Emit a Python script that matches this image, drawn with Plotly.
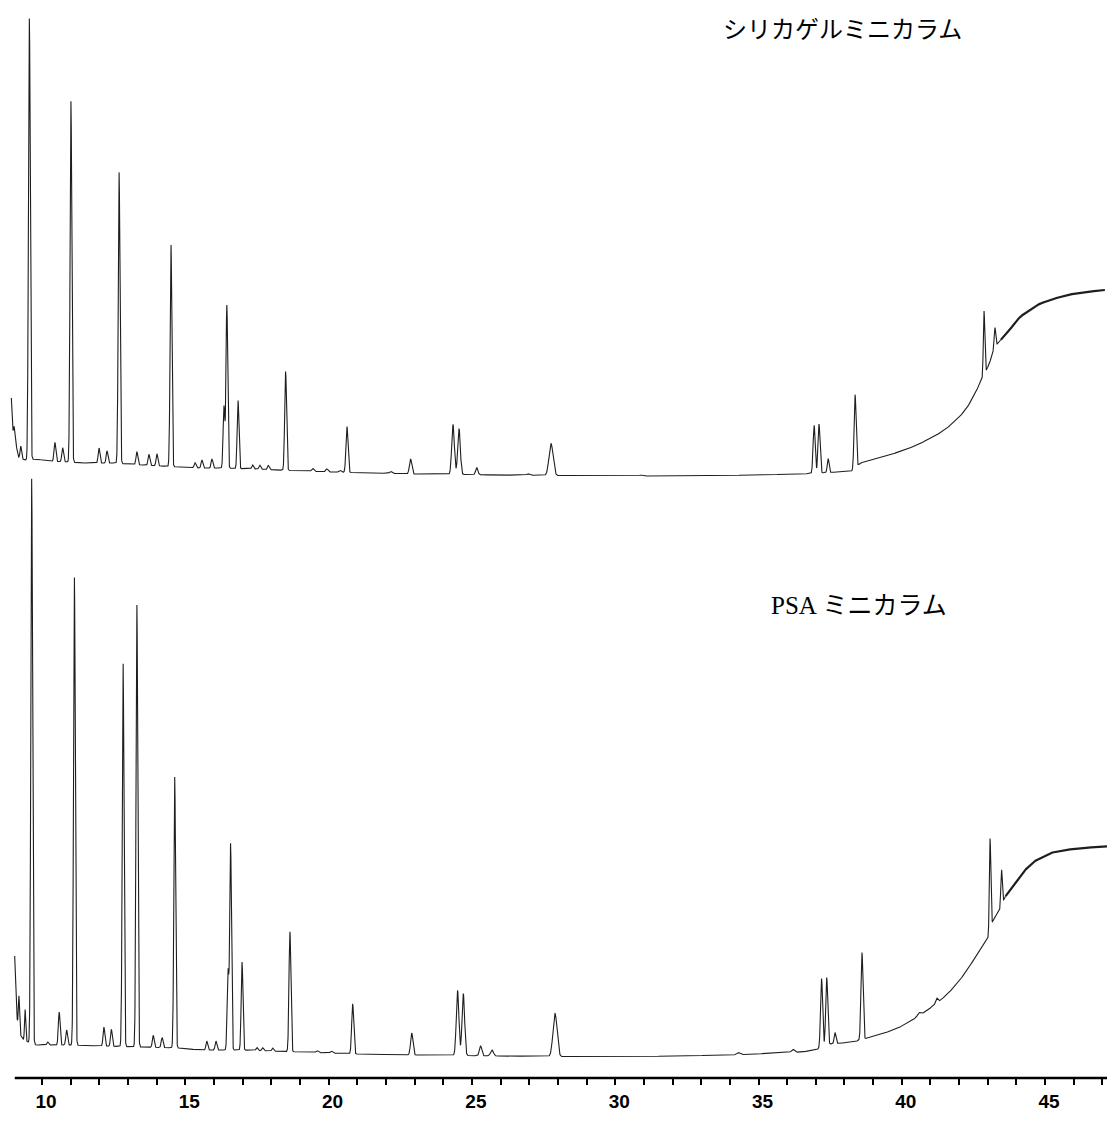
import numpy as np
import plotly.graph_objects as go

# ---------------- data (retention time in min, response in arbitrary units) ----------------
# upper chromatogram : シリカゲルミニカラム
top_base_t = [8.93, 8.99, 9.10, 9.17, 9.40, 9.8, 10.2, 10.9, 11.5, 12.5, 13.5, 14.8, 15.5, 16.2,
              17.5, 19.0, 20.0, 21.5, 23.0, 26.0, 30.0, 33.0, 36.5, 37.8, 38.3, 38.45, 38.55,
              39.0, 39.5, 40.0, 40.5, 41.09, 41.5, 42.0, 42.27, 42.5, 42.73, 42.84, 42.95, 43.02,
              43.12, 43.2, 43.3, 43.36, 43.6, 43.9, 44.12, 44.5, 44.8, 45.17, 45.76, 46.4, 47.09]
top_base_v = [78, 44, 31, 19, 16, 17, 15, 14, 13, 13, 11, 9, 8, 8,
              7, 5, 4, 3, 2, 1, 0, 0, 2, 4, 5, 10, 13,
              16.5, 20.5, 25, 30.5, 39, 46, 58.5, 68, 79, 93, 99, 106, 110,
              118, 126, 131, 133, 141, 151, 159, 167, 172, 176, 181, 184, 186]
top_peak_t = [9.03, 9.26, 9.52, 9.56, 10.45, 10.72, 11.01, 11.99, 12.27, 12.69, 13.31, 13.73,
              14.01, 14.50, 15.34, 15.58, 15.93, 16.35, 16.45, 16.84, 17.35, 17.60, 17.90,
              18.50, 19.45, 19.94, 20.40, 20.64, 22.17, 22.86, 24.34, 24.55, 25.17, 26.96,
              27.76, 30.90, 36.94, 37.11, 37.43, 38.37, 42.87, 43.25]
top_peak_h = [10, 12, 25, 438, 19, 14, 361, 15, 12, 291, 13, 11,
              12, 222, 5, 8, 9, 62, 163, 68, 4, 4, 4,
              99, 3, 3, 2, 46, 2, 15, 50, 46, 7, 1.5,
              32, 1, 48, 49, 14, 74, 64, 20]
top_peak_w = [0.02, 0.025, 0.02, 0.03, 0.03, 0.03, 0.03, 0.03, 0.03, 0.03, 0.03, 0.03,
              0.03, 0.03, 0.03, 0.03, 0.03, 0.03, 0.03, 0.03, 0.03, 0.03, 0.03,
              0.032, 0.04, 0.04, 0.04, 0.035, 0.04, 0.04, 0.045, 0.045, 0.04, 0.05,
              0.07, 0.06, 0.035, 0.035, 0.03, 0.035, 0.025, 0.025]

# lower chromatogram : PSA ミニカラム
bot_base_t = [9.047, 9.10, 9.13, 9.25, 9.33, 9.50, 9.8, 11.0, 12.0, 13.5, 14.8, 15.5, 17.0,
              18.0, 19.0, 20.0, 21.0, 23.0, 26.0, 30.0, 34.0, 36.5, 37.0, 37.5, 38.3, 38.8,
              39.3, 39.8, 40.2, 40.53, 40.9, 41.23, 41.6, 42.03, 42.3, 42.62, 42.97, 43.05,
              43.18, 43.42, 43.6, 43.9, 44.2, 44.58, 44.9, 45.17, 45.7, 46.32, 47.37]
bot_base_v = [101, 50, 38, 22, 18, 15, 12, 12, 11, 10, 9, 7, 7,
              6, 5, 4, 3, 2, 1, 0, 2, 5, 7, 13, 15, 19,
              23, 28, 34, 40, 47, 54, 63, 77, 88, 102, 117, 121,
              137, 147, 160, 172, 184, 195, 200, 204, 207, 209, 211]
bot_peak_t = [9.197, 9.41, 9.64, 10.20, 10.60, 10.86, 11.13, 12.16, 12.42, 12.83, 13.31, 13.88,
              14.19, 14.63, 15.75, 16.07, 16.49, 16.58, 16.98, 17.50, 17.70, 18.05, 18.65,
              19.60, 20.10, 20.84, 22.90, 24.50, 24.70, 25.30, 25.70, 27.90, 34.30, 36.20,
              37.20, 37.38, 37.67, 38.61, 40.60, 41.22, 43.08, 43.48]
bot_peak_h = [32, 31, 565, 3, 33, 15, 468, 19, 17, 383, 442, 12,
              10, 271, 9, 9, 79, 206, 88, 3, 3, 3, 120,
              2, 2, 50, 22, 65, 62, 10, 6, 43, 2, 3,
              69, 68, 11, 87, 3, 5, 94, 36]
bot_peak_w = [0.02, 0.02, 0.03, 0.03, 0.03, 0.03, 0.03, 0.03, 0.03, 0.03, 0.03, 0.03,
              0.03, 0.03, 0.03, 0.03, 0.03, 0.03, 0.03, 0.03, 0.03, 0.03, 0.032,
              0.04, 0.04, 0.035, 0.04, 0.045, 0.045, 0.04, 0.05, 0.07, 0.05, 0.05,
              0.035, 0.035, 0.03, 0.035, 0.05, 0.04, 0.025, 0.025]

major_ticks = [10, 15, 20, 25, 30, 35, 40, 45]
minor_ticks = [11, 12, 13, 14, 16, 17, 18, 19, 21, 22, 23, 24, 26, 27, 28, 29,
               31, 32, 33, 34, 36, 37, 38, 39, 41, 42, 43, 44, 46, 47]
label_top = "シリカゲルミニカラム"
label_bot = "<span style='font-family:Liberation Serif'>PSA</span> ミニカラム"


def build(base_t, base_v, pk_t, pk_h, pk_w):
    t = np.arange(base_t[0], base_t[-1], 0.004)
    y = np.interp(t, base_t, base_v)
    for c, h, w in zip(pk_t, pk_h, pk_w):
        y = y + h * np.exp(-0.5 * ((t - c) / w) ** 2)
    return t, y


tt, ty = build(top_base_t, top_base_v, top_peak_t, top_peak_h, top_peak_w)
bt, by = build(bot_base_t, bot_base_v, bot_peak_t, bot_peak_h, bot_peak_w)

# page body has an 8px margin: figure is sized to fit the 1115x1122 window
W, H = 1107, 1114
PLOT_H = 1070

line_col = "#1e1e1e"
fig = go.Figure()
m = tt < 43.45
fig.add_trace(go.Scatter(x=tt[m], y=ty[m], mode="lines", yaxis="y2",
                         line=dict(color=line_col, width=1.1), showlegend=False, hoverinfo="skip"))
fig.add_trace(go.Scatter(x=tt[~m], y=ty[~m], mode="lines", yaxis="y2",
                         line=dict(color=line_col, width=2.2), showlegend=False, hoverinfo="skip"))
mb = bt < 43.62
fig.add_trace(go.Scatter(x=bt[mb], y=by[mb], mode="lines", yaxis="y",
                         line=dict(color=line_col, width=1.1), showlegend=False, hoverinfo="skip"))
fig.add_trace(go.Scatter(x=bt[~mb], y=by[~mb], mode="lines", yaxis="y",
                         line=dict(color=line_col, width=2.2), showlegend=False, hoverinfo="skip"))

fig.update_layout(
    width=W, height=H,
    margin=dict(l=0, r=0, t=0, b=H - PLOT_H, autoexpand=False),
    paper_bgcolor="white", plot_bgcolor="white",
    showlegend=False,
    xaxis=dict(range=[8.8137, 47.439], showgrid=False, zeroline=False, showline=False,
               tickvals=major_ticks, ticktext=[str(v) for v in major_ticks],
               ticks="outside", ticklen=6, tickwidth=2, tickcolor="black",
               ticklabelstandoff=0, ticklabelshift=4,
               tickfont=dict(family="Liberation Sans, Arial, sans-serif", size=19, color="black",
                             weight="bold"),
               minor=dict(tickvals=minor_ticks, ticks="outside", ticklen=6, tickwidth=2,
                          tickcolor="black", showgrid=False)),
    yaxis=dict(range=[-21, 1049], visible=False),
    yaxis2=dict(range=[-602, 468], visible=False, overlaying="y"),
    shapes=[dict(type="line", xref="x", yref="paper", x0=9.05, x1=47.33, y0=0, y1=0,
                 line=dict(color="black", width=2.5))],
    annotations=[
        dict(text=label_top, xref="paper", yref="paper", x=714 / W, y=1 - 1 / PLOT_H,
             xanchor="left", yanchor="top", showarrow=False, borderpad=0,
             font=dict(family="Noto Sans CJK JP", size=24, color="black")),
        dict(text=label_bot, xref="paper", yref="paper", x=761 / W, y=1 - 595 / PLOT_H,
             xanchor="left", yanchor="middle", showarrow=False,
             font=dict(family="Noto Sans CJK JP", size=25, color="black")),
    ],
)

fig.write_html("out.html")
